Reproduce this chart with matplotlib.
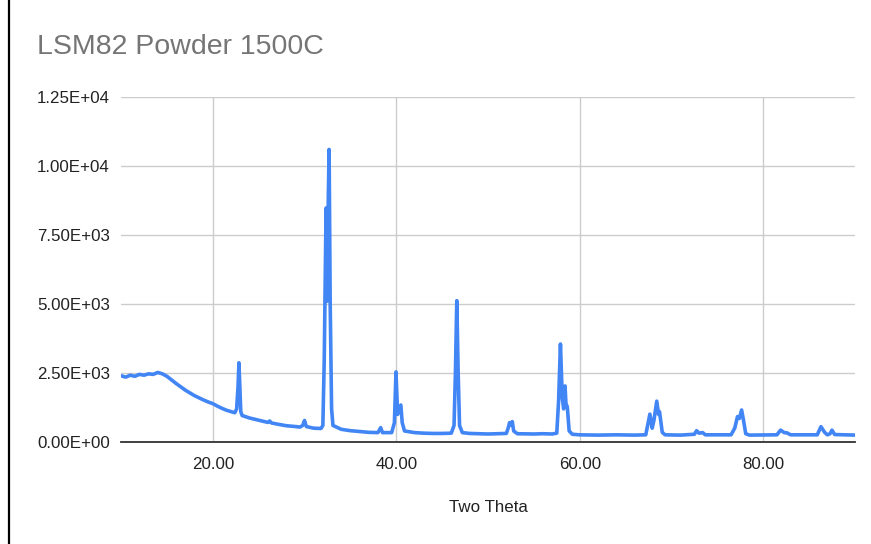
import matplotlib
matplotlib.use("Agg")
import matplotlib.pyplot as plt
from matplotlib.lines import Line2D
from matplotlib.ticker import FuncFormatter

# XRD scan (two theta, counts)
two_theta = [10.0, 10.5, 11.0, 11.5, 12.0, 12.5, 13.0, 13.5, 14.0, 14.5,
             15.0, 15.5, 16.0, 16.5, 17.0, 17.5, 18.0, 18.5, 19.0, 19.5,
             20.0, 20.5, 21.0, 21.5, 22.0, 22.4, 22.6, 22.75, 22.85, 22.95,
             23.05, 23.2, 24.0, 25.0, 26.0, 26.2, 26.4, 27.0, 28.0, 29.0,
             29.5, 29.8, 30.0, 30.2, 31.0, 31.8, 32.0, 32.15, 32.35, 32.45,
             32.6, 32.68, 32.8, 32.95, 33.1, 34.0, 35.0, 36.0, 37.0, 38.0,
             38.3, 38.5, 39.5, 39.8, 39.97, 40.15, 40.35, 40.5, 40.65, 40.9,
             42.0, 43.0, 44.0, 45.0, 46.0, 46.3, 46.45, 46.6, 46.75, 46.9,
             47.2, 48.0, 50.0, 51.0, 52.0, 52.2, 52.35, 52.5, 52.65, 52.8,
             53.2, 55.0, 56.0, 57.0, 57.5, 57.7, 57.9, 58.1, 58.25, 58.4,
             58.5, 58.65, 58.85, 59.2, 60.0, 62.0, 64.0, 66.0, 67.2, 67.4,
             67.65, 67.9, 68.1, 68.4, 68.6, 68.7, 69.0, 69.3, 71.0, 72.5,
             72.75, 73.0, 73.4, 73.7, 76.5, 76.9, 77.2, 77.4, 77.65, 77.85,
             78.1, 78.5, 81.5, 81.9, 82.3, 82.6, 83.0, 85.9, 86.3, 86.7,
             87.0, 87.3, 87.5, 87.8, 90.0]
intensity = [2400, 2350, 2420, 2380, 2450, 2420, 2470, 2450, 2520, 2470,
             2380, 2250, 2120, 2000, 1880, 1780, 1680, 1600, 1520, 1450,
             1390, 1300, 1220, 1150, 1100, 1060, 1200, 2000, 2870, 2000,
             1100, 960, 870, 790, 710, 760, 690, 650, 590, 560,
             540, 600, 780, 560, 500, 490, 600, 3000, 8480, 5100,
             9000, 10600, 5000, 1200, 600, 460, 410, 380, 350, 340,
             520, 340, 340, 700, 2540, 1000, 1200, 1340, 700, 400,
             340, 320, 310, 310, 320, 600, 2500, 5120, 2500, 600,
             340, 310, 290, 300, 310, 500, 700, 620, 740, 400,
             300, 290, 300, 290, 320, 1500, 3550, 1600, 1200, 2030,
             1400, 1270, 400, 280, 260, 250, 260, 250, 260, 600,
             1010, 500, 800, 1480, 1000, 1100, 350, 260, 250, 280,
             410, 320, 340, 260, 260, 500, 920, 850, 1160, 800,
             300, 250, 260, 430, 340, 330, 260, 260, 555, 350,
             260, 300, 430, 270, 250]

y_ticks = [0, 2500, 5000, 7500, 10000, 12500]
x_ticks = [20, 40, 60, 80]

plt.rcParams['font.family'] = ['Liberation Sans', 'DejaVu Sans']

fig = plt.figure(figsize=(8.71, 5.44), dpi=100)
ax = fig.add_axes([0.139, 0.1875, 0.8425, 0.6342])

ax.plot(two_theta, intensity, color='#4285f4', lw=2.6, solid_joinstyle='round')

ax.set_xlim(10, 90)
ax.set_ylim(0, 12500)
ax.set_xticks(x_ticks)
ax.set_yticks(y_ticks)
ax.xaxis.set_major_formatter(FuncFormatter(lambda v, p: f"{v:.2f}"))
ax.yaxis.set_major_formatter(FuncFormatter(lambda v, p: f"{v:.2E}"))
ax.grid(True, color='#cccccc', lw=1)
ax.set_axisbelow(True)
for s in ['top', 'right', 'left']:
    ax.spines[s].set_visible(False)
ax.spines['bottom'].set_color('#333333')
ax.spines['bottom'].set_linewidth(1.3)
ax.tick_params(length=0, labelsize=12.2, colors='#222222')
ax.tick_params(axis='y', pad=8)
ax.tick_params(axis='x', pad=11)

ax.set_xlabel("Two Theta", fontsize=12.2, color='#222222', labelpad=20)
fig.text(0.0425, 0.914, "LSM82 Powder 1500C", fontsize=20.5, color='#757575',
         va='center', ha='left')

# black edge on the left of the image
fig.add_artist(Line2D([0.0098, 0.0098], [0, 1], color='black', lw=1.6,
                      transform=fig.transFigure))

fig.savefig("out.png", dpi=100)
